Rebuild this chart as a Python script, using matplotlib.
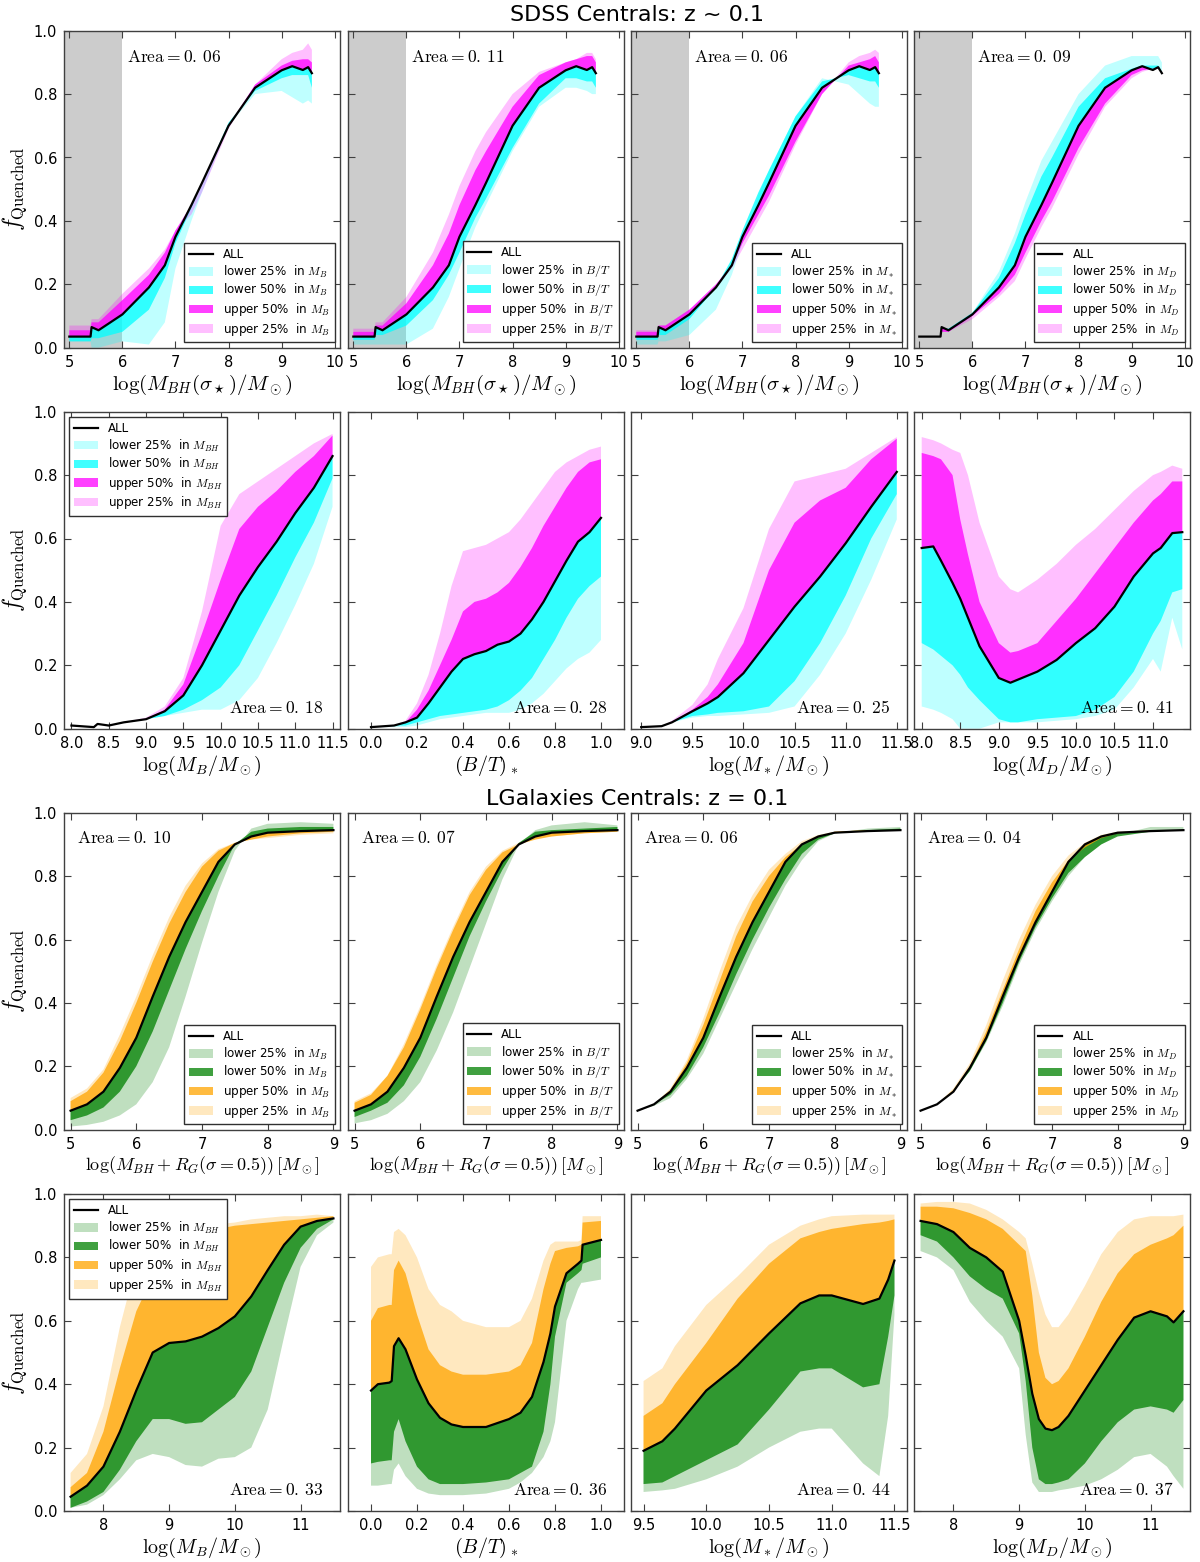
import matplotlib
matplotlib.use("Agg")
import matplotlib.pyplot as plt
from matplotlib.lines import Line2D
from matplotlib.patches import Patch
import numpy as np

# ---------------- DATA ----------------
# Row 1: SDSS, x = log(M_BH(sigma)/Msun)
r1_x = [5.0, 5.4, 5.42, 5.55, 6.0, 6.5, 6.8, 7.0, 7.3, 7.5, 8.0, 8.5, 9.0, 9.2, 9.4, 9.5, 9.57]
r1_all = [0.035, 0.035, 0.065, 0.055, 0.105, 0.19, 0.26, 0.35, 0.45, 0.52, 0.70, 0.82, 0.875, 0.888, 0.876, 0.885, 0.866]
# panel 1 (split in M_B)
r1c1_up50 = [0.055, 0.055, 0.08, 0.08, 0.15, 0.23, 0.30, 0.37, 0.45, 0.52, 0.70, 0.83, 0.89, 0.905, 0.91, 0.91, 0.90]
r1c1_up25 = [0.07, 0.07, 0.09, 0.09, 0.17, 0.25, 0.31, 0.37, 0.42, 0.49, 0.69, 0.83, 0.91, 0.93, 0.94, 0.96, 0.94]
r1c1_lo50 = [0.02, 0.02, 0.03, 0.03, 0.05, 0.12, 0.22, 0.33, 0.44, 0.52, 0.71, 0.81, 0.85, 0.86, 0.86, 0.86, 0.82]
r1c1_lo25 = [0.02, 0.02, 0.0, 0.0, 0.02, 0.01, 0.08, 0.25, 0.40, 0.49, 0.70, 0.80, 0.81, 0.79, 0.77, 0.78, 0.77]
# panel 2 (split in B/T)
r1c2_up50 = [0.05, 0.05, 0.07, 0.07, 0.14, 0.26, 0.36, 0.45, 0.56, 0.62, 0.76, 0.86, 0.90, 0.91, 0.92, 0.92, 0.90]
r1c2_up25 = [0.06, 0.06, 0.08, 0.08, 0.16, 0.30, 0.42, 0.51, 0.62, 0.68, 0.80, 0.87, 0.90, 0.91, 0.93, 0.93, 0.91]
r1c2_lo50 = [0.025, 0.025, 0.04, 0.04, 0.07, 0.15, 0.23, 0.30, 0.41, 0.47, 0.63, 0.77, 0.85, 0.85, 0.84, 0.84, 0.82]
r1c2_lo25 = [0.01, 0.01, 0.01, 0.01, 0.01, 0.06, 0.16, 0.25, 0.38, 0.45, 0.62, 0.76, 0.82, 0.82, 0.81, 0.80, 0.80]
# panel 3 (split in M*)
r1c3_up50 = [0.05, 0.05, 0.07, 0.07, 0.12, 0.20, 0.26, 0.33, 0.42, 0.48, 0.65, 0.80, 0.89, 0.90, 0.91, 0.92, 0.90]
r1c3_up25 = [0.055, 0.055, 0.07, 0.07, 0.12, 0.19, 0.25, 0.31, 0.40, 0.46, 0.64, 0.80, 0.90, 0.92, 0.93, 0.94, 0.93]
r1c3_lo50 = [0.025, 0.025, 0.04, 0.04, 0.09, 0.19, 0.28, 0.37, 0.49, 0.56, 0.73, 0.84, 0.86, 0.85, 0.84, 0.84, 0.82]
r1c3_lo25 = [0.01, 0.01, 0.02, 0.02, 0.04, 0.12, 0.23, 0.33, 0.48, 0.56, 0.73, 0.85, 0.83, 0.80, 0.77, 0.76, 0.76]
# panel 4 (split in M_D)
r1c4_up50 = [0.035, 0.035, 0.05, 0.05, 0.10, 0.17, 0.23, 0.30, 0.40, 0.46, 0.63, 0.77, 0.86, 0.875, 0.88, 0.88, 0.87]
r1c4_up25 = [0.035, 0.035, 0.05, 0.05, 0.09, 0.16, 0.21, 0.28, 0.38, 0.44, 0.61, 0.76, 0.85, 0.87, 0.88, 0.88, 0.87]
r1c4_lo50 = [0.035, 0.035, 0.06, 0.06, 0.11, 0.22, 0.33, 0.42, 0.54, 0.60, 0.76, 0.85, 0.88, 0.89, 0.89, 0.89, 0.87]
r1c4_lo25 = [0.035, 0.035, 0.06, 0.06, 0.11, 0.24, 0.36, 0.46, 0.59, 0.65, 0.80, 0.89, 0.92, 0.92, 0.92, 0.92, 0.90]

# Row 2: SDSS, split in M_BH
r2c1_x = [8.0, 8.3, 8.35, 8.5, 8.7, 9.0, 9.25, 9.5, 9.75, 10.0, 10.25, 10.5, 10.75, 11.0, 11.25, 11.5]
r2c1_all = [0.01, 0.005, 0.015, 0.01, 0.02, 0.03, 0.055, 0.105, 0.20, 0.31, 0.42, 0.51, 0.59, 0.68, 0.76, 0.86]
r2c1_up50 = [0.01, 0.005, 0.015, 0.01, 0.02, 0.03, 0.06, 0.14, 0.30, 0.47, 0.63, 0.70, 0.75, 0.81, 0.86, 0.925]
r2c1_up25 = [0.01, 0.005, 0.015, 0.01, 0.02, 0.035, 0.07, 0.16, 0.37, 0.64, 0.74, 0.78, 0.82, 0.86, 0.90, 0.93]
r2c1_lo50 = [0.01, 0.005, 0.015, 0.01, 0.02, 0.03, 0.04, 0.06, 0.09, 0.13, 0.20, 0.31, 0.42, 0.54, 0.65, 0.79]
r2c1_lo25 = [0.01, 0.005, 0.015, 0.01, 0.02, 0.03, 0.04, 0.05, 0.06, 0.06, 0.09, 0.16, 0.27, 0.39, 0.52, 0.70]

r2c2_x = [0.0, 0.1, 0.15, 0.2, 0.25, 0.3, 0.35, 0.4, 0.45, 0.5, 0.55, 0.6, 0.65, 0.7, 0.75, 0.8, 0.85, 0.9, 0.95, 1.0]
r2c2_all = [0.005, 0.01, 0.02, 0.035, 0.08, 0.13, 0.18, 0.22, 0.235, 0.245, 0.265, 0.275, 0.30, 0.345, 0.40, 0.465, 0.53, 0.59, 0.62, 0.665]
r2c2_up50 = [0.005, 0.01, 0.02, 0.06, 0.12, 0.20, 0.28, 0.37, 0.40, 0.41, 0.43, 0.46, 0.51, 0.57, 0.64, 0.70, 0.76, 0.81, 0.84, 0.85]
r2c2_up25 = [0.005, 0.01, 0.025, 0.08, 0.17, 0.30, 0.45, 0.56, 0.57, 0.58, 0.60, 0.62, 0.66, 0.71, 0.76, 0.81, 0.84, 0.86, 0.88, 0.89]
r2c2_lo50 = [0.005, 0.01, 0.01, 0.02, 0.03, 0.04, 0.045, 0.05, 0.055, 0.06, 0.07, 0.09, 0.12, 0.16, 0.22, 0.28, 0.35, 0.41, 0.45, 0.48]
r2c2_lo25 = [0.005, 0.005, 0.005, 0.01, 0.02, 0.03, 0.035, 0.04, 0.045, 0.05, 0.05, 0.05, 0.06, 0.08, 0.11, 0.15, 0.19, 0.22, 0.24, 0.28]

r2c3_x = [9.0, 9.2, 9.3, 9.5, 9.65, 9.75, 10.0, 10.25, 10.5, 10.75, 11.0, 11.25, 11.5]
r2c3_all = [0.005, 0.008, 0.02, 0.055, 0.08, 0.10, 0.175, 0.28, 0.385, 0.48, 0.585, 0.70, 0.81]
r2c3_up50 = [0.005, 0.008, 0.02, 0.06, 0.10, 0.14, 0.27, 0.50, 0.65, 0.72, 0.76, 0.85, 0.915]
r2c3_up25 = [0.005, 0.008, 0.025, 0.075, 0.14, 0.22, 0.38, 0.63, 0.78, 0.80, 0.82, 0.87, 0.92]
r2c3_lo50 = [0.005, 0.008, 0.02, 0.04, 0.045, 0.05, 0.055, 0.07, 0.15, 0.27, 0.42, 0.60, 0.74]
r2c3_lo25 = [0.005, 0.008, 0.02, 0.035, 0.04, 0.04, 0.045, 0.05, 0.07, 0.17, 0.30, 0.47, 0.66]

r2c4_x = [8.0, 8.15, 8.25, 8.4, 8.5, 8.6, 8.75, 9.0, 9.15, 9.25, 9.5, 9.75, 10.0, 10.25, 10.5, 10.75, 11.0, 11.1, 11.25, 11.38]
r2c4_all = [0.57, 0.575, 0.53, 0.46, 0.41, 0.35, 0.26, 0.16, 0.145, 0.155, 0.18, 0.217, 0.27, 0.317, 0.385, 0.48, 0.553, 0.57, 0.617, 0.62]
r2c4_up50 = [0.87, 0.86, 0.85, 0.80, 0.66, 0.55, 0.40, 0.27, 0.24, 0.245, 0.27, 0.34, 0.41, 0.49, 0.57, 0.65, 0.72, 0.74, 0.78, 0.78]
r2c4_up25 = [0.92, 0.91, 0.90, 0.88, 0.87, 0.80, 0.65, 0.48, 0.44, 0.43, 0.47, 0.52, 0.58, 0.63, 0.69, 0.75, 0.80, 0.81, 0.83, 0.82]
r2c4_lo50 = [0.27, 0.25, 0.23, 0.20, 0.17, 0.13, 0.09, 0.03, 0.02, 0.02, 0.03, 0.035, 0.04, 0.06, 0.10, 0.18, 0.30, 0.34, 0.43, 0.44]
r2c4_lo25 = [0.07, 0.06, 0.05, 0.03, 0.0, 0.0, 0.0, 0.02, 0.02, 0.02, 0.02, 0.025, 0.03, 0.04, 0.06, 0.13, 0.22, 0.18, 0.35, 0.25]

# Row 3: LGalaxies, x = log(M_BH + R_G)
r3_x = [5.0, 5.25, 5.5, 5.75, 6.0, 6.25, 6.5, 6.75, 7.0, 7.25, 7.5, 7.75, 8.0, 8.5, 9.0]
r3_all = [0.06, 0.08, 0.12, 0.195, 0.29, 0.42, 0.545, 0.655, 0.75, 0.845, 0.90, 0.925, 0.937, 0.942, 0.945]
r3c1_up50 = [0.09, 0.12, 0.18, 0.28, 0.40, 0.53, 0.65, 0.75, 0.83, 0.88, 0.905, 0.915, 0.925, 0.935, 0.94]
r3c1_up25 = [0.10, 0.13, 0.19, 0.30, 0.42, 0.55, 0.67, 0.77, 0.84, 0.885, 0.905, 0.915, 0.92, 0.93, 0.935]
r3c1_lo50 = [0.03, 0.045, 0.07, 0.12, 0.20, 0.31, 0.44, 0.57, 0.69, 0.80, 0.90, 0.94, 0.95, 0.955, 0.955]
r3c1_lo25 = [0.01, 0.015, 0.025, 0.045, 0.08, 0.15, 0.26, 0.42, 0.59, 0.75, 0.88, 0.95, 0.965, 0.97, 0.965]
r3c2_up50 = [0.085, 0.11, 0.17, 0.26, 0.38, 0.51, 0.63, 0.74, 0.82, 0.875, 0.90, 0.915, 0.925, 0.935, 0.94]
r3c2_up25 = [0.09, 0.115, 0.17, 0.27, 0.39, 0.52, 0.64, 0.75, 0.83, 0.88, 0.905, 0.92, 0.925, 0.935, 0.94]
r3c2_lo50 = [0.04, 0.06, 0.085, 0.14, 0.23, 0.35, 0.48, 0.61, 0.72, 0.82, 0.905, 0.94, 0.945, 0.95, 0.955]
r3c2_lo25 = [0.02, 0.03, 0.05, 0.09, 0.15, 0.25, 0.37, 0.51, 0.65, 0.79, 0.90, 0.945, 0.96, 0.97, 0.96]
r3c3_up50 = [0.06, 0.08, 0.125, 0.21, 0.33, 0.47, 0.61, 0.72, 0.80, 0.86, 0.90, 0.925, 0.94, 0.945, 0.945]
r3c3_up25 = [0.06, 0.08, 0.13, 0.22, 0.35, 0.50, 0.64, 0.74, 0.82, 0.87, 0.91, 0.93, 0.94, 0.945, 0.945]
r3c3_lo50 = [0.06, 0.08, 0.11, 0.17, 0.26, 0.37, 0.49, 0.60, 0.70, 0.79, 0.87, 0.915, 0.935, 0.945, 0.95]
r3c3_lo25 = [0.06, 0.075, 0.10, 0.16, 0.24, 0.35, 0.46, 0.57, 0.67, 0.77, 0.85, 0.91, 0.935, 0.95, 0.955]
r3c4_up50 = [0.06, 0.08, 0.125, 0.20, 0.31, 0.44, 0.57, 0.69, 0.78, 0.85, 0.89, 0.92, 0.935, 0.945, 0.945]
r3c4_up25 = [0.06, 0.08, 0.13, 0.21, 0.33, 0.47, 0.60, 0.71, 0.80, 0.865, 0.905, 0.93, 0.94, 0.945, 0.945]
r3c4_lo50 = [0.06, 0.08, 0.12, 0.185, 0.28, 0.40, 0.53, 0.64, 0.73, 0.81, 0.86, 0.90, 0.925, 0.94, 0.945]
r3c4_lo25 = [0.06, 0.08, 0.12, 0.185, 0.275, 0.39, 0.52, 0.63, 0.72, 0.80, 0.86, 0.90, 0.93, 0.955, 0.955]

# Row 4: LGalaxies, split in M_BH
r4c1_x = [7.5, 7.75, 8.0, 8.25, 8.5, 8.75, 9.0, 9.25, 9.5, 9.75, 10.0, 10.25, 10.5, 10.75, 11.0, 11.25, 11.5]
r4c1_all = [0.045, 0.08, 0.14, 0.25, 0.38, 0.50, 0.53, 0.535, 0.55, 0.577, 0.614, 0.677, 0.76, 0.84, 0.897, 0.915, 0.923]
r4c1_up50 = [0.075, 0.12, 0.25, 0.45, 0.63, 0.74, 0.80, 0.84, 0.87, 0.89, 0.90, 0.905, 0.91, 0.915, 0.92, 0.925, 0.93]
r4c1_up25 = [0.12, 0.18, 0.33, 0.58, 0.78, 0.87, 0.89, 0.895, 0.90, 0.905, 0.91, 0.92, 0.925, 0.93, 0.93, 0.935, 0.93]
r4c1_lo50 = [0.01, 0.03, 0.06, 0.13, 0.22, 0.29, 0.29, 0.275, 0.28, 0.32, 0.36, 0.44, 0.58, 0.72, 0.83, 0.89, 0.92]
r4c1_lo25 = [0.01, 0.02, 0.05, 0.10, 0.16, 0.18, 0.17, 0.145, 0.14, 0.165, 0.17, 0.20, 0.32, 0.55, 0.77, 0.87, 0.91]

r4c2_x = [0.0, 0.03, 0.08, 0.09, 0.1, 0.12, 0.15, 0.2, 0.25, 0.3, 0.35, 0.4, 0.5, 0.6, 0.65, 0.7, 0.75, 0.78, 0.8, 0.85, 0.9, 0.915, 0.92, 1.0]
r4c2_all = [0.38, 0.40, 0.405, 0.41, 0.52, 0.545, 0.51, 0.415, 0.34, 0.294, 0.273, 0.265, 0.265, 0.29, 0.31, 0.36, 0.47, 0.56, 0.645, 0.75, 0.78, 0.79, 0.84, 0.855]
r4c2_up50 = [0.60, 0.64, 0.65, 0.65, 0.76, 0.79, 0.75, 0.62, 0.51, 0.46, 0.44, 0.43, 0.43, 0.44, 0.46, 0.53, 0.70, 0.78, 0.82, 0.83, 0.835, 0.84, 0.91, 0.915]
r4c2_up25 = [0.77, 0.80, 0.81, 0.81, 0.88, 0.89, 0.87, 0.80, 0.70, 0.65, 0.63, 0.60, 0.58, 0.58, 0.60, 0.67, 0.79, 0.84, 0.85, 0.85, 0.85, 0.855, 0.93, 0.93]
r4c2_lo50 = [0.15, 0.155, 0.16, 0.16, 0.25, 0.29, 0.22, 0.14, 0.10, 0.085, 0.085, 0.085, 0.09, 0.10, 0.12, 0.14, 0.25, 0.40, 0.55, 0.72, 0.75, 0.76, 0.78, 0.80]
r4c2_lo25 = [0.08, 0.08, 0.085, 0.085, 0.13, 0.15, 0.11, 0.07, 0.055, 0.05, 0.05, 0.05, 0.055, 0.07, 0.09, 0.12, 0.17, 0.22, 0.28, 0.60, 0.70, 0.72, 0.72, 0.73]

r4c3_x = [9.5, 9.65, 9.75, 10.0, 10.25, 10.5, 10.75, 10.9, 11.0, 11.25, 11.38, 11.45, 11.5]
r4c3_all = [0.19, 0.22, 0.26, 0.38, 0.46, 0.56, 0.655, 0.68, 0.68, 0.653, 0.67, 0.73, 0.79]
r4c3_up50 = [0.30, 0.34, 0.40, 0.53, 0.67, 0.78, 0.86, 0.88, 0.89, 0.905, 0.91, 0.915, 0.92]
r4c3_up25 = [0.41, 0.45, 0.52, 0.65, 0.74, 0.84, 0.90, 0.92, 0.93, 0.935, 0.935, 0.935, 0.935]
r4c3_lo50 = [0.085, 0.09, 0.11, 0.16, 0.21, 0.32, 0.44, 0.45, 0.45, 0.39, 0.40, 0.55, 0.68]
r4c3_lo25 = [0.06, 0.065, 0.07, 0.10, 0.14, 0.20, 0.25, 0.26, 0.26, 0.15, 0.11, 0.30, 0.62]

r4c4_x = [7.5, 7.75, 8.0, 8.25, 8.5, 8.75, 9.0, 9.1, 9.2, 9.3, 9.4, 9.5, 9.6, 9.75, 10.0, 10.25, 10.5, 10.75, 11.0, 11.25, 11.35, 11.5]
r4c4_all = [0.915, 0.905, 0.88, 0.83, 0.80, 0.755, 0.60, 0.49, 0.37, 0.29, 0.26, 0.255, 0.265, 0.30, 0.38, 0.46, 0.54, 0.61, 0.63, 0.614, 0.595, 0.63]
r4c4_up50 = [0.96, 0.96, 0.955, 0.94, 0.92, 0.89, 0.84, 0.82, 0.68, 0.50, 0.42, 0.40, 0.41, 0.45, 0.55, 0.66, 0.75, 0.81, 0.84, 0.86, 0.87, 0.90]
r4c4_up25 = [0.97, 0.975, 0.975, 0.97, 0.95, 0.92, 0.88, 0.86, 0.78, 0.69, 0.62, 0.58, 0.58, 0.62, 0.71, 0.81, 0.88, 0.92, 0.93, 0.93, 0.93, 0.935]
r4c4_lo50 = [0.87, 0.85, 0.80, 0.74, 0.70, 0.67, 0.56, 0.41, 0.20, 0.10, 0.085, 0.085, 0.09, 0.10, 0.15, 0.22, 0.28, 0.32, 0.33, 0.32, 0.31, 0.35]
r4c4_lo25 = [0.82, 0.80, 0.76, 0.66, 0.60, 0.55, 0.45, 0.24, 0.09, 0.06, 0.06, 0.06, 0.065, 0.07, 0.08, 0.10, 0.13, 0.17, 0.18, 0.14, 0.11, 0.07]

# labels
area_values = [["0.06", "0.11", "0.06", "0.09"],
               ["0.18", "0.28", "0.25", "0.41"],
               ["0.10", "0.07", "0.06", "0.04"],
               ["0.33", "0.36", "0.44", "0.37"]]
split_names = [r"$M_B$", r"$B/T$", r"$M_*$", r"$M_D$"]
split_bh = r"$M_{BH}$"
row1_xlabel = r"$\log(M_{BH}(\sigma_\star)/M_\odot)$"
row3_xlabel = r"$\log(M_{BH}+R_G(\sigma=0.5))\,[M_\odot]$"
prop_xlabels = [r"$\log(M_B/M_\odot)$", r"$(B/T)_*$", r"$\log(M_*/M_\odot)$", r"$\log(M_D/M_\odot)$"]
title_sdss = "SDSS Centrals: z ~ 0.1"
title_lgal = "LGalaxies Centrals: z = 0.1"

# ---------------- STYLE ----------------
plt.rcParams.update({
    "font.family": ["DejaVu Sans"],
    "mathtext.fontset": "cm",
    "xtick.direction": "in",
    "ytick.direction": "in",
    "xtick.top": True,
    "ytick.right": True,
    "xtick.major.size": 5,
    "ytick.major.size": 5,
    "xtick.major.width": 0.8,
    "ytick.major.width": 0.8,
    "xtick.color": "#404040",
    "ytick.color": "#404040",
    "xtick.labelcolor": "black",
    "ytick.labelcolor": "black",
    "xtick.labelsize": 10.5,
    "ytick.labelsize": 10.5,
    "axes.edgecolor": "#404040",
    "axes.linewidth": 1.0,
})

sdss_cols = {"lo25": ((0, 1, 1), 0.25), "lo50": ((0, 1, 1), 0.75),
             "up50": ((1, 0, 1), 0.75), "up25": ((1, 0, 1), 0.25)}
lgal_cols = {"lo25": ((0, 0.5, 0), 0.25), "lo50": ((0, 0.5, 0), 0.75),
             "up50": ((1, 0.647, 0), 0.75), "up25": ((1, 0.647, 0), 0.25)}

fig = plt.figure(figsize=(12, 15.62), dpi=100)
W, H = 1200.0, 1562.0
col_left = [64, 348, 631, 914]
row_top = [30.7, 411.7, 812.7, 1194.0]
aw, ah = 276.0, 317.0

panels = [
    [(r1_x, r1_all, r1c1_lo25, r1c1_lo50, r1c1_up50, r1c1_up25),
     (r1_x, r1_all, r1c2_lo25, r1c2_lo50, r1c2_up50, r1c2_up25),
     (r1_x, r1_all, r1c3_lo25, r1c3_lo50, r1c3_up50, r1c3_up25),
     (r1_x, r1_all, r1c4_lo25, r1c4_lo50, r1c4_up50, r1c4_up25)],
    [(r2c1_x, r2c1_all, r2c1_lo25, r2c1_lo50, r2c1_up50, r2c1_up25),
     (r2c2_x, r2c2_all, r2c2_lo25, r2c2_lo50, r2c2_up50, r2c2_up25),
     (r2c3_x, r2c3_all, r2c3_lo25, r2c3_lo50, r2c3_up50, r2c3_up25),
     (r2c4_x, r2c4_all, r2c4_lo25, r2c4_lo50, r2c4_up50, r2c4_up25)],
    [(r3_x, r3_all, r3c1_lo25, r3c1_lo50, r3c1_up50, r3c1_up25),
     (r3_x, r3_all, r3c2_lo25, r3c2_lo50, r3c2_up50, r3c2_up25),
     (r3_x, r3_all, r3c3_lo25, r3c3_lo50, r3c3_up50, r3c3_up25),
     (r3_x, r3_all, r3c4_lo25, r3c4_lo50, r3c4_up50, r3c4_up25)],
    [(r4c1_x, r4c1_all, r4c1_lo25, r4c1_lo50, r4c1_up50, r4c1_up25),
     (r4c2_x, r4c2_all, r4c2_lo25, r4c2_lo50, r4c2_up50, r4c2_up25),
     (r4c3_x, r4c3_all, r4c3_lo25, r4c3_lo50, r4c3_up50, r4c3_up25),
     (r4c4_x, r4c4_all, r4c4_lo25, r4c4_lo50, r4c4_up50, r4c4_up25)],
]

xlims = [[(4.9, 10.1)] * 4,
         [(7.9, 11.6), (-0.1, 1.1), (8.9, 11.6), (7.9, 11.48)],
         [(4.9, 9.1)] * 4,
         [(7.4, 11.6), (-0.1, 1.1), (9.4, 11.6), (7.4, 11.6)]]
xticks = [[np.arange(5, 11, 1)] * 4,
          [np.arange(8.0, 11.6, 0.5), np.arange(0, 1.01, 0.2), np.arange(9.0, 11.6, 0.5), np.arange(8.0, 11.1, 0.5)],
          [np.arange(5, 10, 1)] * 4,
          [np.arange(8, 12, 1), np.arange(0, 1.01, 0.2), np.arange(9.5, 11.6, 0.5), np.arange(8, 12, 1)]]
xfmt = [["%d"] * 4, ["%.1f"] * 4, ["%d"] * 4, ["%d", "%.1f", "%.1f", "%d"]]

for r in range(4):
    cols = sdss_cols if r < 2 else lgal_cols
    for c in range(4):
        x, yall, lo25, lo50, up50, up25 = panels[r][c]
        left = col_left[c] / W
        bottom = 1 - (row_top[r] + ah) / H
        ax = fig.add_axes([left, bottom, aw / W, ah / H])
        if r == 0:
            ax.axvspan(4.9, 6.0, color="#cccccc", lw=0, zorder=0)
        for key, arr in (("lo25", lo25), ("lo50", lo50), ("up50", up50), ("up25", up25)):
            col, a = cols[key]
            ax.fill_between(x, arr, yall, facecolor=col, alpha=a, lw=0, zorder=1)
        ax.plot(x, yall, color="black", lw=1.6, zorder=3)
        ax.set_xlim(*xlims[r][c])
        ax.set_ylim(0, 1)
        ax.set_xticks(xticks[r][c])
        ax.set_xticklabels([xfmt[r][c] % v for v in xticks[r][c]])
        ax.set_yticks(np.arange(0, 1.01, 0.2))
        if c == 0:
            ax.set_yticklabels(["%.1f" % v for v in np.arange(0, 1.01, 0.2)])
            ax.set_ylabel(r"$f_{\rm Quenched}$", fontsize=17, labelpad=3)
        else:
            ax.set_yticklabels([])
        if r == 0:
            ax.set_xlabel(row1_xlabel, fontsize=15, labelpad=2)
        elif r == 2:
            ax.set_xlabel(row3_xlabel, fontsize=13, labelpad=2)
        else:
            ax.set_xlabel(prop_xlabels[c], fontsize=14.5, labelpad=2)
        ax.tick_params(axis="x", pad=5)
        ax.tick_params(axis="y", pad=5)

        area = r"$\mathrm{Area}=0.\,%s$" % area_values[r][c].split(".")[1]
        if r == 0:
            ax.text(0.23, 0.917, area, transform=ax.transAxes, fontsize=12.6, ha="left", va="center")
        elif r == 2:
            ax.text(0.047, 0.921, area, transform=ax.transAxes, fontsize=12.6, ha="left", va="center")
        else:
            ax.text(0.94, 0.066, area, transform=ax.transAxes, fontsize=12.6, ha="right", va="center")

        # legend
        if r in (0, 2) or c == 0:
            sname = split_names[c] if r in (0, 2) else split_bh
            handles = [Line2D([], [], color="black", lw=1.6)]
            labels = ["ALL"]
            for key, txt in (("lo25", "lower 25%"), ("lo50", "lower 50%"),
                             ("up50", "upper 50%"), ("up25", "upper 25%")):
                col, a = cols[key]
                handles.append(Patch(facecolor=col, alpha=a, lw=0))
                labels.append(txt + "  in " + sname)
            loc = "lower right" if r in (0, 2) else "upper left"
            leg = ax.legend(handles, labels, loc=loc, fontsize=8.6, fancybox=False,
                            framealpha=1, edgecolor="#303030", borderaxespad=0.45,
                            labelspacing=0.22, handlelength=2.0, handletextpad=0.85,
                            borderpad=0.4)
            leg.get_frame().set_linewidth(1.0)
            leg.set_zorder(5)

fig.text(637 / W, 1 - 15 / H, title_sdss, ha="center", va="center", fontsize=16)
fig.text(637 / W, 1 - 799 / H, title_lgal, ha="center", va="center", fontsize=16)

fig.savefig("out.png", dpi=100, facecolor="white")
